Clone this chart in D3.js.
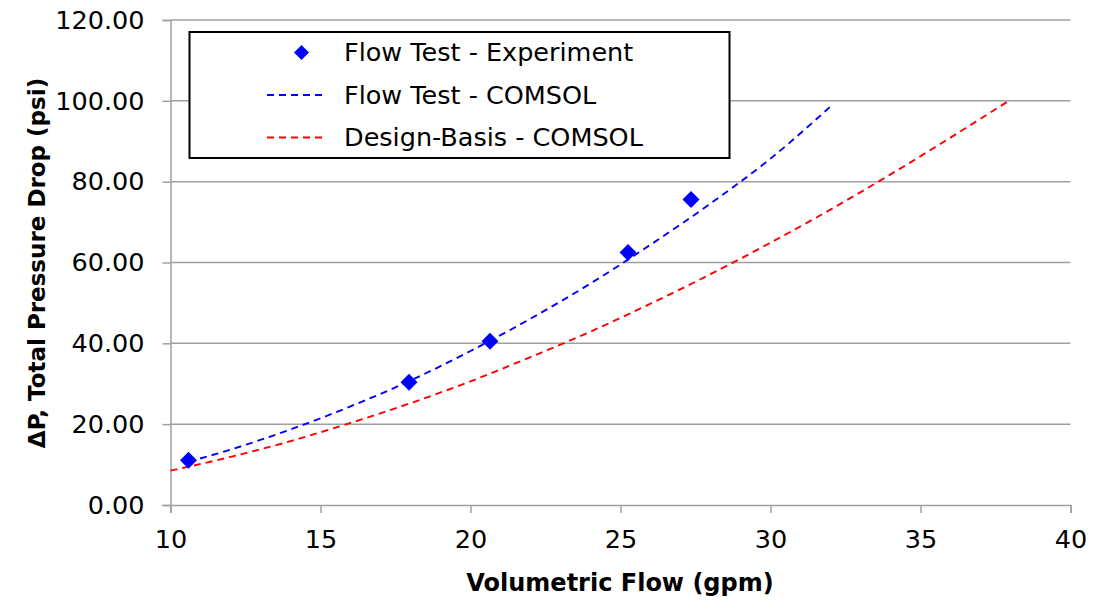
<!DOCTYPE html>
<html lang="en">
<head>
<meta charset="utf-8">
<title>Pressure drop vs flow</title>
<script src="https://cdn.jsdelivr.net/npm/d3@7"></script>
<style>
  html, body { margin:0; padding:0; background:#fff; overflow:hidden }
  svg { display:block }
  text { font-family: "Century Gothic", "DejaVu Sans", sans-serif; fill:#000 }
</style>
</head>
<body>
<svg id="chart"></svg>
<script>
// data
var seriesNames = ["Flow Test - Experiment", "Flow Test - COMSOL", "Design-Basis - COMSOL"];

var expFlow = [10.6, 17.95, 20.65, 25.25, 27.35];
var expDP   = [11.1, 30.4, 40.5, 62.5, 75.6];

var ftFlow = [10.6, 12, 14, 16, 18, 20, 22, 24, 26, 28, 30, 32.0];
var ftDP   = [10.7, 13.7, 18.7, 24.4, 30.8, 38.1, 46.1, 54.8, 64.4, 74.6, 85.7, 98.6];

var dbFlow = [10, 12, 14, 16, 18, 20, 22, 24, 26, 28, 30, 32, 34, 36, 37.9];
var dbDP   = [8.5, 11.9, 15.8, 20.3, 25.2, 30.6, 36.6, 42.9, 49.8, 57.1, 64.9, 73.1, 81.8, 90.9, 99.8];

var xTicks = [10, 15, 20, 25, 30, 35, 40];
var yTicks = [0, 20, 40, 60, 80, 100, 120];

var xTitle = "Volumetric Flow (gpm)";
var yTitle = "\u0394P, Total Pressure Drop (psi)";

// layout
var width = 1106, height = 600;
var plotL = 170.5, plotR = 1070.5, plotT = 20, plotB = 505;
var grid = "#a0a0a0";
var blue = "#0000ff", red = "#ff0000";
var fontSize = 25.5;

var svg = d3.select("#chart").attr("width", width).attr("height", height);

var x = d3.scaleLinear().domain([10, 40]).range([plotL, plotR]);
var y = d3.scaleLinear().domain([0, 120]).range([plotB, plotT]);

// horizontal gridlines
svg.append("g").selectAll("line")
   .data(yTicks.slice(1))
   .enter().append("line")
   .attr("x1", plotL).attr("x2", plotR)
   .attr("y1", function(d) { return y(d); })
   .attr("y2", function(d) { return y(d); })
   .attr("stroke", grid).attr("stroke-width", 1.5);

// axes
var yAxis = svg.append("g")
   .attr("transform", "translate(" + plotL + ",0)")
   .call(d3.axisLeft(y).tickValues(yTicks).tickSize(8).tickPadding(18)
         .tickFormat(d3.format(".2f")));
var xAxis = svg.append("g")
   .attr("transform", "translate(0," + plotB + ")")
   .call(d3.axisBottom(x).tickValues(xTicks).tickSize(8).tickPadding(17)
         .tickFormat(d3.format("d")));

[xAxis, yAxis].forEach(function(a) {
  a.select(".domain").attr("stroke", grid).attr("stroke-width", 1.5);
  a.selectAll(".tick line").attr("stroke", grid).attr("stroke-width", 1.5);
  a.selectAll(".tick text").attr("font-size", fontSize).attr("fill", "#000")
   .style("font-family", '"Century Gothic", "DejaVu Sans", sans-serif');
});

// curves
var line = d3.line()
   .x(function(d) { return x(d[0]); })
   .y(function(d) { return y(d[1]); })
   .curve(d3.curveMonotoneX);

svg.append("path")
   .datum(d3.zip(dbFlow, dbDP))
   .attr("d", line)
   .attr("fill", "none").attr("stroke", red)
   .attr("stroke-width", 1.9).attr("stroke-dasharray", "7,5");

svg.append("path")
   .datum(d3.zip(ftFlow, ftDP))
   .attr("d", line)
   .attr("fill", "none").attr("stroke", blue)
   .attr("stroke-width", 1.9).attr("stroke-dasharray", "7,5");

// experiment points (diamonds)
var diamond = function(s) { return "M0," + (-s) + "L" + s + ",0L0," + s + "L" + (-s) + ",0Z"; };
svg.append("g").selectAll("path")
   .data(d3.zip(expFlow, expDP))
   .enter().append("path")
   .attr("d", diamond(8.5))
   .attr("transform", function(d) { return "translate(" + x(d[0]) + "," + y(d[1]) + ")"; })
   .attr("fill", blue);

// legend
var lg = svg.append("g");
lg.append("rect")
   .attr("x", 189.5).attr("y", 32).attr("width", 540).attr("height", 126)
   .attr("fill", "#fff").attr("stroke", "#000").attr("stroke-width", 2);

var rowY = [52.5, 95, 137.5];
lg.append("path").attr("d", diamond(7.5))
   .attr("transform", "translate(301.5," + rowY[0] + ")").attr("fill", blue);
[blue, red].forEach(function(c, i) {
  lg.append("line")
    .attr("x1", 267).attr("x2", 327)
    .attr("y1", rowY[i + 1]).attr("y2", rowY[i + 1])
    .attr("stroke", c).attr("stroke-width", 1.9).attr("stroke-dasharray", "7,5");
});
lg.selectAll("text")
   .data(seriesNames)
   .enter().append("text")
   .attr("x", 344)
   .attr("y", function(d, i) { return rowY[i]; })
   .attr("dy", "0.35em")
   .attr("font-size", fontSize)
   .text(function(d) { return d; });

// axis titles
svg.append("text")
   .attr("x", 620).attr("y", 591)
   .attr("text-anchor", "middle")
   .attr("font-size", 24).attr("font-weight", "bold")
   .text(xTitle);

svg.append("text")
   .attr("transform", "translate(45,263) rotate(-90)")
   .attr("text-anchor", "middle")
   .attr("font-size", 23).attr("font-weight", "bold")
   .text(yTitle);
</script>
</body>
</html>
